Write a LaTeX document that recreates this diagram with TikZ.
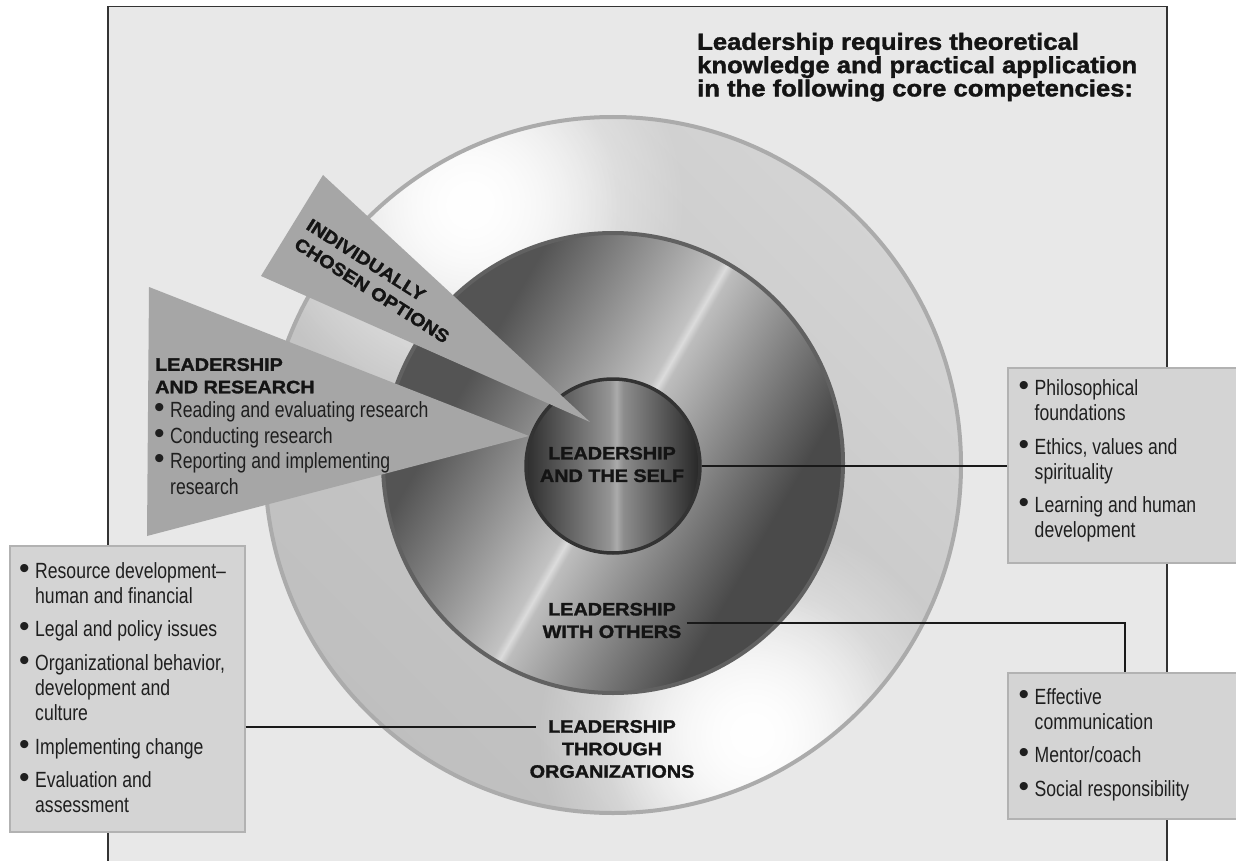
\documentclass[tikz,border=0pt]{standalone}
\usepackage{fontspec}
\usetikzlibrary{fadings}
\setmainfont{Liberation Sans}
\newfontfamily\listfont[FakeStretch=0.8]{Liberation Sans}
\newfontfamily\labfont[FakeStretch=1.1,FakeBold=1.6]{Liberation Sans Bold}
\newfontfamily\headfont[FakeStretch=1.1,FakeBold=1.6]{Liberation Sans Bold}
\newcommand\mybul{\makebox[16pt][l]{{\normalfont\fontsize{30}{30}\selectfont\textbullet}}}
\newcommand\myind{\makebox[16pt]{}}
\tikzfading[name=spotfade, inner color=transparent!0, outer color=transparent!100]
\pgfdeclarehorizontalshading{ringbase}{100bp}{color(0bp)=(black!25); color(25bp)=(black!25); color(50bp)=(black!22); color(75bp)=(black!17); color(100bp)=(black!17)}
\pgfdeclarehorizontalshading{midring}{100bp}{color(0bp)=(black!67); color(31.7bp)=(black!67); color(49.2bp)=(black!24); color(50bp)=(black!14); color(50.8bp)=(black!26); color(68.3bp)=(black!71); color(100bp)=(black!71)}
\pgfdeclarehorizontalshading{innerdisc}{100bp}{color(0bp)=(black!82); color(25bp)=(black!82); color(49bp)=(black!42); color(51bp)=(black!33); color(53bp)=(black!45); color(75bp)=(black!85); color(100bp)=(black!85)}
\begin{document}
\begin{tikzpicture}[x=1pt,y=1pt,
  boxst/.style={draw=black!30, fill=black!17, line width=1.5pt, inner sep=0pt},
  wedgest/.style={fill=black!35, draw=none},
  spot/.style={fill=white, path fading=spotfade},
  lab/.style={font=\labfont\fontsize{18}{22.5}\selectfont, align=center, inner sep=0pt, text=black!92},
  listtxt/.style={font=\listfont\fontsize{22}{25.3}\selectfont, align=left, inner sep=0pt, anchor=north west, text=black!88},
  conn/.style={draw=black!90, line width=2.3pt}]
\useasboundingbox (0,0) rectangle (1236,-861);
\fill[white] (0,0) rectangle (1236,-861);
\draw[fill=black!9, draw=black!80, line width=1.2pt] (108,-6.5) rectangle (1167,-880);
% outer ring with highlights
\begin{scope}
  \clip (613,-465) circle (348);
  \shade[shading=ringbase, shading angle=45] (613,-465) circle (348);
  \fill[spot] (470,-205) circle (215);
  \fill[spot] (470,-205) circle (150);
  \fill[spot] (752,-735) circle (215);
  \fill[spot] (752,-735) circle (150);
\end{scope}
\node[circle, minimum size=696, inner sep=0pt, draw=black!33, line width=4pt] (outer) at (613,-465) {};
\node[circle, minimum size=460, inner sep=0pt, draw=black!62, line width=4pt, shading=midring, shading angle=-30] (middle) at (613,-463) {};
\node[circle, minimum size=174, inner sep=0pt, draw=black!80, line width=3.5pt, shading=innerdisc] (selfc) at (613,-466) {};
% wedges
\fill[wedgest] (149,-287) -- (529,-436) -- (147,-536) -- cycle;
\fill[wedgest] (323,-175) -- (590,-422) -- (261,-276) -- cycle;
% wedge texts
\node[lab, align=left, rotate=-32.5] (indiv) at (378,-281) {INDIVIDUALLY\\CHOSEN OPTIONS};
\node[lab, align=left, anchor=north west] (restitle) at (155,-358) {LEADERSHIP\\AND RESEARCH};
\node[listtxt, font=\listfont\fontsize{22}{25.8}\selectfont] (reslist) at (154,-401.2) {\mybul Reading and evaluating research\\ \mybul Conducting research\\ \mybul Reporting and implementing\\ \myind research};
% title
\node[font=\headfont\fontsize{23.3}{23.3}\selectfont, align=left, anchor=north west, inner sep=0pt, text=black!92] (title) at (697,-32.7) {Leadership requires theoretical\\knowledge and practical application\\in the following core competencies:};
% ring labels
\node[lab] (self) at (612,-464.5) {LEADERSHIP\\AND THE SELF};
\node[lab] (others) at (612,-620.5) {LEADERSHIP\\WITH OTHERS};
\node[lab] (orgs) at (612,-749) {LEADERSHIP\\THROUGH\\ORGANIZATIONS};
% boxes
\node[boxst, minimum width=235, minimum height=286, anchor=north west] (lbox) at (9,-545) {};
\node[boxst, minimum width=250, minimum height=195, anchor=north west] (rbox1) at (1007,-367) {};
\node[boxst, minimum width=250, minimum height=146, anchor=north west] (rbox2) at (1007,-672) {};
\node[listtxt] (ltext) at (19,-562.2) {\mybul Resource development–\\ \myind human and financial\\[8pt] \mybul Legal and policy issues\\[8pt] \mybul Organizational behavior,\\ \myind development and\\ \myind culture\\[8pt] \mybul Implementing change\\[8pt] \mybul Evaluation and\\ \myind assessment};
\node[listtxt] (r1text) at (1018.5,-379.3) {\mybul Philosophical\\ \myind foundations\\[8pt] \mybul Ethics, values and\\ \myind spirituality\\[8pt] \mybul Learning and human\\ \myind development};
\node[listtxt] (r2text) at (1018.5,-688.2) {\mybul Effective\\ \myind communication\\[8pt] \mybul Mentor/coach\\[8pt] \mybul Social responsibility};
% connectors
\draw[conn] (selfc.east) -- (selfc.east -| rbox1.west);
\coordinate (othturn) at (1125,-623);
\draw[conn] ([xshift=5pt]others.east |- othturn) -- (othturn) -- (othturn |- rbox2.north);
\coordinate (orgend) at (536,-727);
\draw[conn] (lbox.east |- orgend) -- (orgend);
\end{tikzpicture}
\end{document}
